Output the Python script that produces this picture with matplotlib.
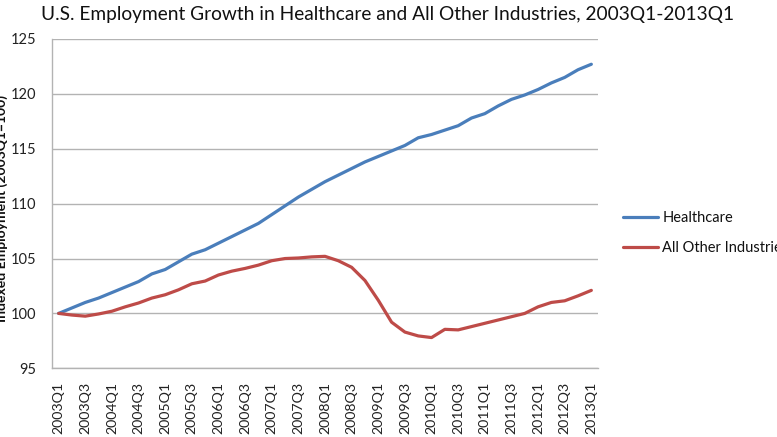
import matplotlib
matplotlib.use("Agg")
import matplotlib.pyplot as plt
import numpy as np

plt.rcParams['font.family'] = ['Lato', 'DejaVu Sans']

quarters = [f"{y}Q{q}" for y in range(2003, 2013) for q in range(1, 5)] + ["2013Q1"]

healthcare = [100.0, 100.5, 101.0, 101.4, 101.9, 102.4, 102.9, 103.6, 104.0, 104.7,
              105.4, 105.8, 106.4, 107.0, 107.6, 108.2, 109.0, 109.8, 110.6, 111.3,
              112.0, 112.6, 113.2, 113.8, 114.3, 114.8, 115.3, 116.0, 116.3, 116.7,
              117.1, 117.8, 118.2, 118.9, 119.5, 119.9, 120.4, 121.0, 121.5, 122.2,
              122.7]

other = [100.0, 99.85, 99.75, 99.95, 100.2, 100.6, 100.95, 101.4, 101.7, 102.15,
         102.7, 102.95, 103.5, 103.85, 104.1, 104.4, 104.8, 105.0, 105.05, 105.15,
         105.2, 104.8, 104.2, 103.0, 101.2, 99.2, 98.3, 97.95, 97.8, 98.55,
         98.5, 98.8, 99.1, 99.4, 99.7, 100.0, 100.6, 101.0, 101.15, 101.6,
         102.1]

yticks = [95, 100, 105, 110, 115, 120, 125]

W, H = 777, 437
fig = plt.figure(figsize=(W/100, H/100), dpi=100)
ax = fig.add_axes([52/W, 1-368.3/H, (598-52)/W, (368.3-39)/H])

x = np.arange(len(quarters))
ax.plot(x, healthcare, color='#4a7ebb', lw=2.3, label='Healthcare', solid_capstyle='round')
ax.plot(x, other, color='#be4b48', lw=2.3, label='All Other Industries', solid_capstyle='round')

ax.set_xlim(-0.5, len(quarters)-0.5)
ax.set_ylim(95, 125)
ax.set_yticks(yticks)
ax.set_yticklabels([str(v) for v in yticks], fontsize=10.5, color='#222222')
ax.set_xticks(x[::2])
ax.set_xticklabels(quarters[::2], rotation=90, fontsize=10.2, color='#222222')
ax.tick_params(axis='both', length=0)
ax.tick_params(axis='y', pad=11.5)
ax.tick_params(axis='x', pad=9.6)

ax.grid(axis='y', color='#b3b3b3', lw=1.0)
ax.set_axisbelow(True)
for s in ['top', 'right']:
    ax.spines[s].set_visible(False)
for s in ['left', 'bottom']:
    ax.spines[s].set_color('#b3b3b3')
    ax.spines[s].set_linewidth(1.0)

fig.text(0.5*(40+735)/W, 1-14.5/H, "U.S. Employment Growth in Healthcare and All Other Industries, 2003Q1-2013Q1",
         ha='center', va='center', fontsize=13.8, color='#111111')

fig.text(2/W, 1-208/H, "Indexed Employment (2003Q1=100)", rotation=90, ha='center', va='center',
         fontsize=10, fontweight='bold', color='#111111')

leg = ax.legend(loc='upper left', bbox_to_anchor=(617/W, 1-205.5/H), bbox_transform=fig.transFigure,
                frameon=False, fontsize=10.5, handlelength=2.4, handletextpad=0.3, labelspacing=1.05,
                borderaxespad=0)
for t in leg.get_texts():
    t.set_color('#111111')

fig.savefig('out.png', dpi=100)
